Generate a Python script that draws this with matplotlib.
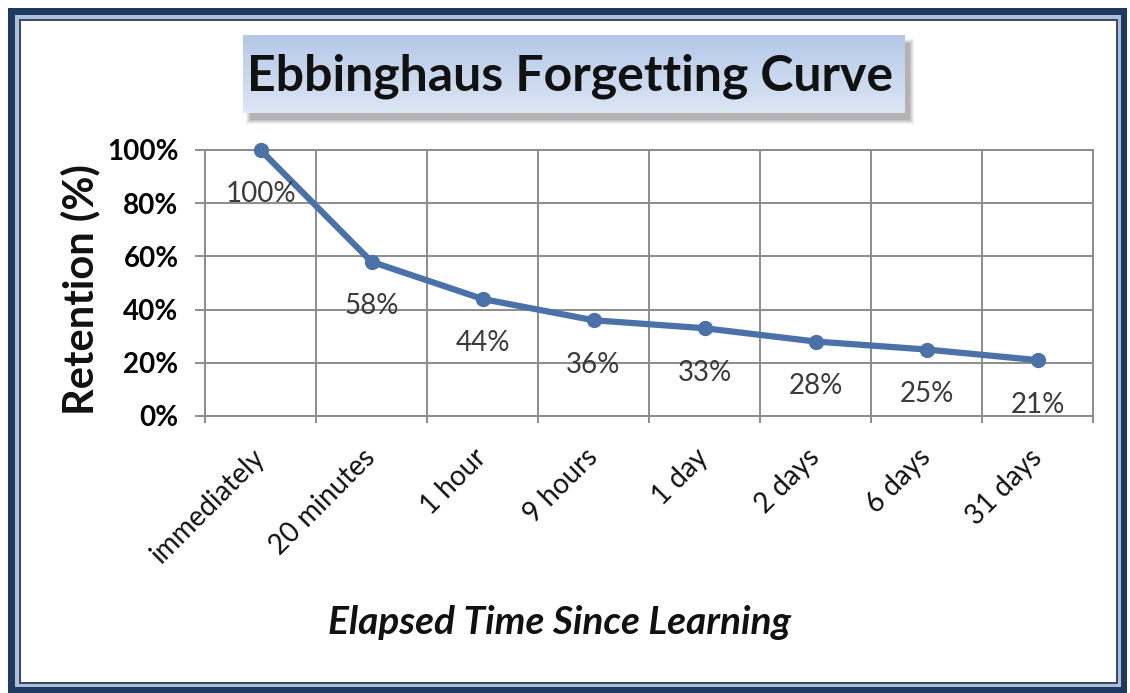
import numpy as np
import matplotlib.pyplot as plt
import matplotlib.transforms as mtransforms
from matplotlib.patches import Rectangle
from matplotlib.colors import LinearSegmentedColormap

times = ['immediately', '20 minutes', '1 hour', '9 hours',
         '1 day', '2 days', '6 days', '31 days']
retention = [100, 58, 44, 36, 33, 28, 25, 21]
y_ticks = [0, 20, 40, 60, 80, 100]

W, H = 1130, 693
plt.rcParams['font.family'] = ['Lato', 'DejaVu Sans']

fig = plt.figure(figsize=(W / 100, H / 100), dpi=100)


def fig_box(x0, y0, x1, y1):
    # pixel box (top-left origin) -> figure fraction rect
    return [x0 / W, 1 - y1 / H, (x1 - x0) / W, (y1 - y0) / H]


# picture frame
frame = [((8, 8, 1127, 693), '#1e3a61'),
         ((15, 15, 1121, 687), '#a9bfdc'),
         ((19, 19, 1118, 684), '#3d4a5e'),
         ((21, 21, 1116, 682), 'white')]
for b, c in frame:
    x, y, w, h = fig_box(*b)
    fig.add_artist(Rectangle((x, y), w, h, transform=fig.transFigure,
                             facecolor=c, edgecolor='none', zorder=-5))

# title box shadow (soft, mostly below)
for i, a in enumerate([0.07, 0.08, 0.10, 0.12, 0.14]):
    x, y, w, h = fig_box(243 + 3 + i, 35 + 4 + i, 905 + 9 - i, 113 + 11 - i)
    fig.add_artist(Rectangle((x, y), w, h, transform=fig.transFigure,
                             facecolor='#505050', edgecolor='none', alpha=a, zorder=-2))

# title box with gradient
tax = fig.add_axes(fig_box(243, 35, 905, 113))
grad = np.linspace(0, 1, 64).reshape(-1, 1)
cmap = LinearSegmentedColormap.from_list('tb', ['#b3c8e8', '#dce6f4'])
tax.imshow(grad, aspect='auto', cmap=cmap, extent=[0, 1, 0, 1])
tax.set_axis_off()
fig.text(570 / W, 1 - 76 / H, 'Ebbinghaus Forgetting Curve', ha='center', va='center',
         fontsize=36, fontweight='bold', color='#111111')

# main chart
ax = fig.add_axes(fig_box(205, 150, 1093, 416))
x = np.arange(len(times))
grid_c = '#8c8c8c'

ax.plot(x, retention, color='#4a72a8', lw=4.5, marker='o', ms=10,
        solid_capstyle='round', zorder=3, clip_on=False)

for xi, v in zip(x, retention):
    ax.annotate(f'{v}%', (xi, v), xytext=(0, -32), textcoords='offset points',
                ha='center', va='center', fontsize=20, color='#3a3a3a', zorder=4)

ax.set_xlim(-0.5, 7.5)
ax.set_ylim(0, 100)
ax.set_yticks(y_ticks)
ax.set_yticklabels([f'{v}%' for v in y_ticks], fontsize=20, fontweight='bold')
ax.set_xticks(x)
ax.set_xticklabels(times, rotation=45, ha='right', rotation_mode='anchor',
                   va='center', fontsize=20, color='#111111')
ax.set_xticks(np.arange(-0.5, 8, 1), minor=True)
shift = mtransforms.ScaledTranslation(5 / 72, 0, fig.dpi_scale_trans)
for lab in ax.get_xticklabels():
    lab.set_transform(lab.get_transform() + shift)

ax.grid(axis='y', which='major', color=grid_c, lw=1.4)
ax.grid(axis='x', which='minor', color=grid_c, lw=1.4)
ax.set_axisbelow(True)
ax.tick_params(axis='x', which='major', length=0, pad=27)
ax.tick_params(axis='x', which='minor', length=5, width=1.4, color=grid_c)
ax.tick_params(axis='y', length=7, width=1.4, color=grid_c, pad=12)
for s in ax.spines.values():
    s.set_color(grid_c)
    s.set_linewidth(1.4)

fig.text(80 / W, 1 - 290 / H, 'Retention (%)', rotation=90, ha='center', va='center',
         fontsize=30, fontweight='bold', color='#111111')
fig.text(560 / W, 1 - 622 / H, 'Elapsed Time Since Learning', ha='center', va='center',
         fontsize=28, fontweight='bold', fontstyle='italic', color='#111111')

fig.savefig('out.png', dpi=100)
